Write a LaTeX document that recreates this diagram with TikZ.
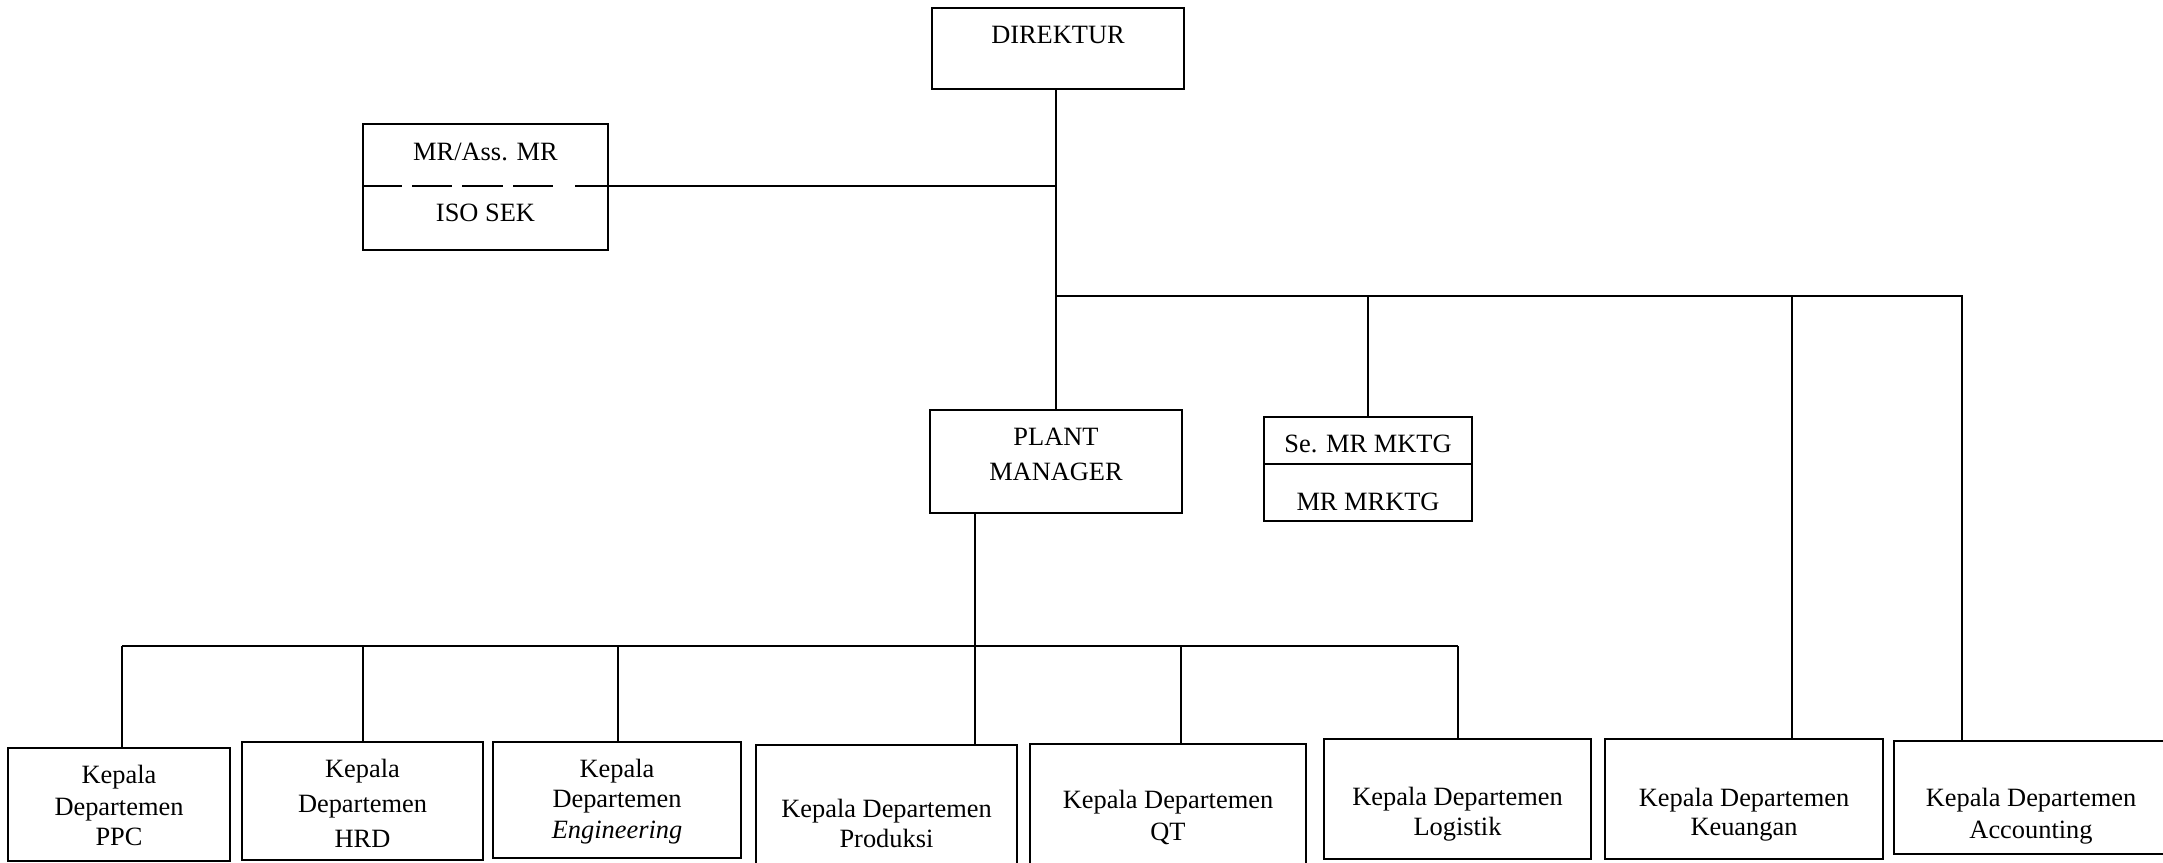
\documentclass[tikz,border=0pt]{standalone}
\usepackage{fontspec}
\setmainfont{Liberation Serif}
\begin{document}
\begin{tikzpicture}[x=1pt,y=-1pt,
  box/.style={draw,line width=1.8pt,inner sep=0pt,outer sep=0pt},
  txt/.style={inner sep=0pt,anchor=base,font=\fontsize{26.4}{30}\selectfont},
  wire/.style={line width=1.7pt}]
\clip (0,0) rectangle (2163,862);
\fill[white] (0,0) rectangle (2163,862);

% ---- boxes ----
\node[box,minimum width=252,minimum height=81]  (dir)  at (1058,48.5) {};
\node[box,minimum width=245,minimum height=126] (mr)   at (485.5,187) {};
\node[box,minimum width=252,minimum height=103] (pm)   at (1056,461.5) {};
\node[box,minimum width=208,minimum height=104] (mk)   at (1368,469) {};
\node[box,minimum width=222,minimum height=113] (ppc)  at (119,804.5) {};
\node[box,minimum width=241,minimum height=118] (hrd)  at (362.5,801) {};
\node[box,minimum width=248,minimum height=116] (eng)  at (617,800) {};
\node[box,minimum width=261,minimum height=135] (prod) at (886.5,812.5) {};
\node[box,minimum width=276,minimum height=136] (qt)   at (1168,812) {};
\node[box,minimum width=267,minimum height=120] (log)  at (1457.5,799) {};
\node[box,minimum width=278,minimum height=120] (keu)  at (1744,799) {};
\node[box,minimum width=274,minimum height=113] (acc)  at (2031,797.5) {};

% ---- box texts ----
\node[txt] (dirT) at (1058,43.5) {DIREKTUR};
\node[txt] (mrT1) at (485.5,160) {MR/Ass. MR};
\node[txt] (mrT2) at (485.5,221.5) {ISO SEK};
\node[txt] (pmT1) at (1056,445) {PLANT};
\node[txt] (pmT2) at (1056,480.5) {MANAGER};
\node[txt] (mkT1) at (1368,452.5) {Se. MR MKTG};
\node[txt] (mkT2) at (1368,510) {MR MRKTG};

\node[txt] (ppcT1) at (119,783) {Kepala};
\node[txt] (ppcT2) at (119,815) {Departemen};
\node[txt] (ppcT3) at (119,845) {PPC};
\node[txt] (hrdT1) at (362.5,777) {Kepala};
\node[txt] (hrdT2) at (362.5,812) {Departemen};
\node[txt] (hrdT3) at (362.5,847) {HRD};
\node[txt] (engT1) at (617,777) {Kepala};
\node[txt] (engT2) at (617,807) {Departemen};
\node[txt] (engT3) at (617,838) {\textit{Engineering}};
\node[txt] (prodT1) at (886.5,817) {Kepala Departemen};
\node[txt] (prodT2) at (886.5,847) {Produksi};
\node[txt] (qtT1) at (1168,808) {Kepala Departemen};
\node[txt] (qtT2) at (1168,840) {QT};
\node[txt] (logT1) at (1457.5,805) {Kepala Departemen};
\node[txt] (logT2) at (1457.5,835) {Logistik};
\node[txt] (keuT1) at (1744,806.5) {Kepala Departemen};
\node[txt] (keuT2) at (1744,835) {Keuangan};
\node[txt] (accT1) at (2031,806) {Kepala Departemen};
\node[txt] (accT2) at (2031,838) {Accounting};

% divider inside the marketing box
\draw[line width=1.8pt] (mk.west |- 0,464) -- (mk.east |- 0,464);

% ---- junction points ----
\coordinate (jmr)  at (1056,186);
\coordinate (jtop) at (1056,296);
\coordinate (jkeu) at (1792,296);
\coordinate (jacc) at (1962,296);
\coordinate (bw)   at (122,646);
\coordinate (bhrd) at (363,646);
\coordinate (beng) at (618,646);
\coordinate (bpm)  at (975,646);
\coordinate (bqt)  at (1181,646);
\coordinate (be)   at (1458,646);

% ---- connectors ----
\draw[wire] (dir.south -| pm.north) -- (pm.north);
\draw[wire,dash pattern=on 39pt off 10pt on 40pt off 10pt on 41pt off 10pt on 40pt off 22pt on 2000pt]
  (mr.west |- jmr) -- (jmr);
\draw[wire] (jtop) -- (jacc) -- (jacc |- acc.north);
\draw[wire] (jtop -| mk.north) -- (mk.north);
\draw[wire] (jkeu) -- (jkeu |- keu.north);

\draw[wire] (bpm |- pm.south) -- (bpm |- prod.north);
\draw[wire] (bw) -- (be);
\draw[wire] (bw) -- (bw |- ppc.north);
\draw[wire] (bhrd) -- (bhrd |- hrd.north);
\draw[wire] (beng) -- (beng |- eng.north);
\draw[wire] (bqt) -- (bqt |- qt.north);
\draw[wire] (be) -- (be |- log.north);
\end{tikzpicture}
\end{document}
